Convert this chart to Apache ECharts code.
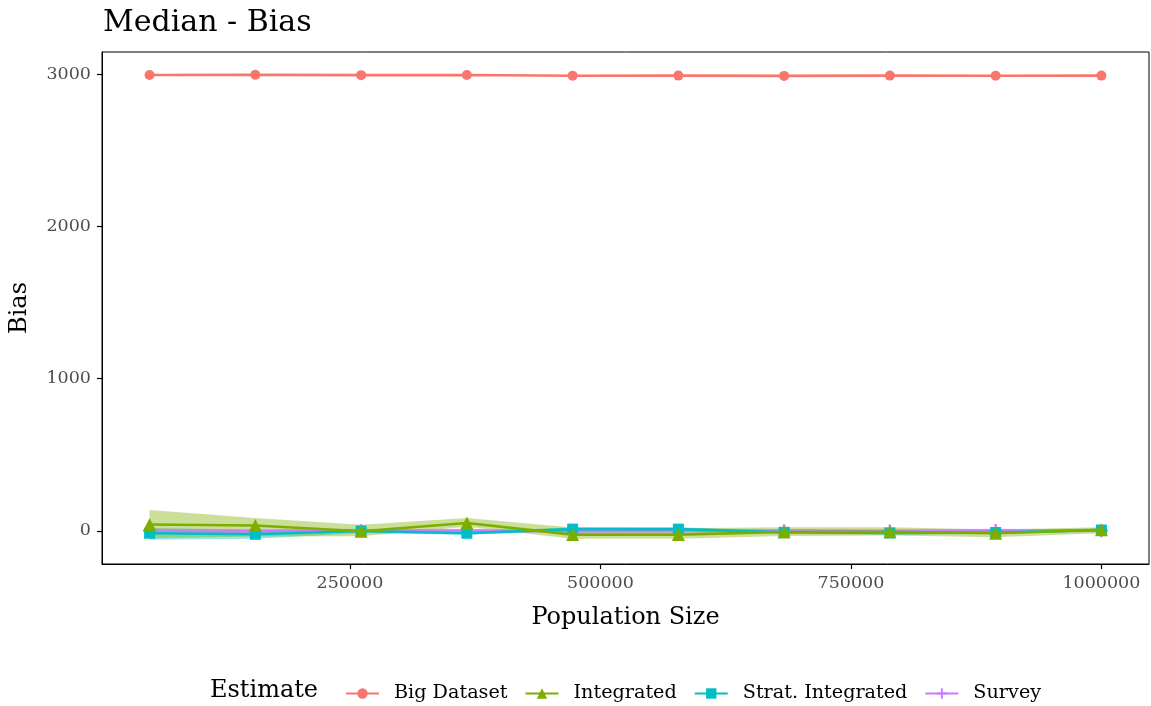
<!DOCTYPE html>
<html>
<head>
<meta charset="utf-8">
<script src="https://cdn.jsdelivr.net/npm/echarts@6/dist/echarts.min.js"></script>
<style>
html,body{margin:0;padding:0;background:#fff;}
#chart{width:1151px;height:706px;}
</style>
</head>
<body>
<div id="chart"></div>
<script>
// ---- data ----
var popSizes = [50000, 155556, 261111, 366667, 472222, 577778, 683333, 788889, 894444, 1000000];
var estimateNames = ['Big Dataset', 'Integrated', 'Strat. Integrated', 'Survey'];
var bigDataset = [2994, 2995, 2993, 2994, 2989, 2990, 2988, 2990, 2989, 2990];
var integrated = [42, 36, -2, 52, -24, -24, -7, -5, -15, 8];
var integratedLo = [-48, -37, -35, 28, -52, -52, -33, -30, -42, -15];
var integratedHi = [138, 85, 40, 85, 22, 18, 24, 24, 10, 24];
var stratIntegrated = [-15, -22, 0, -15, 12, 12, -9, -13, -10, 6];
var stratLo = [-58, -52, -15, -25, 0, 0, -20, -25, -20, -5];
var stratHi = [20, 10, 15, -5, 25, 25, 2, -2, 0, 18];
var survey = [0, -3, 2, 3, -2, 0, 2, 0, 3, 2];
var surveyLo = [-15, -15, -10, -8, -12, -10, -8, -10, -8, -8];
var surveyHi = [15, 10, 12, 14, 8, 10, 12, 10, 14, 12];
var xTicks = [250000, 500000, 750000, 1000000];
var yTicks = [0, 1000, 2000, 3000];

var colors = ['#F8766D', '#7CAE00', '#00BFC4', '#C77CFF'];
var FONT = '"DejaVu Serif", "Liberation Serif", serif';

function pairs(ys) { return popSizes.map(function (x, i) { return [x, ys[i]]; }); }
function ribbonData(lo, hi) { return popSizes.map(function (x, i) { return [x, lo[i], hi[i]]; }); }

function ribbon(name, lo, hi, color) {
  var data = ribbonData(lo, hi);
  return {
    type: 'custom',
    name: name + ' band',
    data: data,
    encode: { x: 0, y: [1, 2] },
    z: 1,
    silent: true,
    renderItem: function (params, api) {
      if (params.dataIndex !== 0) return null;
      var pts = [];
      for (var i = 0; i < data.length; i++) pts.push(api.coord([data[i][0], data[i][2]]));
      for (var j = data.length - 1; j >= 0; j--) pts.push(api.coord([data[j][0], data[j][1]]));
      return { type: 'polygon', shape: { points: pts }, style: { fill: color, opacity: 0.4 } };
    }
  };
}

function lineSeries(name, ys, color, symbol, size, z) {
  return {
    type: 'line',
    name: name,
    data: pairs(ys),
    symbol: symbol,
    symbolSize: size,
    showAllSymbol: true,
    z: z,
    lineStyle: { color: color, width: 2.6 },
    itemStyle: { color: color, opacity: 1 },
    emphasis: { disabled: true },
    animation: false
  };
}

var plusPath = 'path://M0,4.1H10V5.9H0Z M4.1,0H5.9V10H4.1Z';
function plain(v) { return String(v); }

var chart = echarts.init(document.getElementById('chart'), null, { renderer: 'canvas' });
chart.setOption({
  animation: false,
  backgroundColor: '#ffffff',
  title: {
    text: 'Median - Bias',
    left: 98, top: 3,
    textStyle: { fontFamily: FONT, fontSize: 30, fontWeight: 'normal', color: '#000' }
  },
  grid: {
    left: 102, right: 2, top: 52, bottom: 142,
    show: true, borderColor: '#000', borderWidth: 1, backgroundColor: '#fff'
  },
  xAxis: {
    type: 'value',
    min: 2500, max: 1047500,
    name: 'Population Size',
    nameLocation: 'middle',
    nameGap: 42,
    nameTextStyle: { fontFamily: FONT, fontSize: 24, color: '#000' },
    splitLine: { show: false },
    axisLine: { show: true, onZero: false, lineStyle: { color: '#000', width: 1 } },
    axisTick: { show: true, customValues: xTicks, length: 5, lineStyle: { color: '#000', width: 1.2 } },
    axisLabel: { customValues: xTicks, formatter: plain, margin: 10, fontFamily: FONT, fontSize: 17.5, color: '#4D4D4D' }
  },
  yAxis: {
    type: 'value',
    min: -217, max: 3145,
    name: 'Bias',
    nameLocation: 'middle',
    nameGap: 70,
    nameRotate: 90,
    nameTextStyle: { fontFamily: FONT, fontSize: 24, color: '#000' },
    splitLine: { show: false },
    axisLine: { show: true, onZero: false, lineStyle: { color: '#000', width: 1 } },
    axisTick: { show: true, customValues: yTicks, length: 5, lineStyle: { color: '#000', width: 1.2 } },
    axisLabel: { customValues: yTicks, formatter: plain, margin: 11, fontFamily: FONT, fontSize: 17.5, color: '#4D4D4D' }
  },
  legend: {
    data: estimateNames,
    left: 340, top: 679,
    itemWidth: 33, itemHeight: 13, itemGap: 17,
    textStyle: { fontFamily: FONT, fontSize: 19.2, color: '#000', padding: [0, 0, 0, 10] },
    selectedMode: false
  },
  graphic: [{
    type: 'text', left: 210, top: 679,
    style: { text: 'Estimate', font: '24px ' + FONT, fill: '#000' }
  }],
  series: [
    ribbon('Survey', surveyLo, surveyHi, colors[3]),
    ribbon('Strat. Integrated', stratLo, stratHi, colors[2]),
    ribbon('Integrated', integratedLo, integratedHi, colors[1]),
    lineSeries('Survey', survey, colors[3], plusPath, 13, 3),
    lineSeries('Strat. Integrated', stratIntegrated, colors[2], 'rect', 11, 4),
    lineSeries('Integrated', integrated, colors[1], 'triangle', 13, 5),
    lineSeries('Big Dataset', bigDataset, colors[0], 'circle', 10, 6)
  ]
});
</script>
</body>
</html>
